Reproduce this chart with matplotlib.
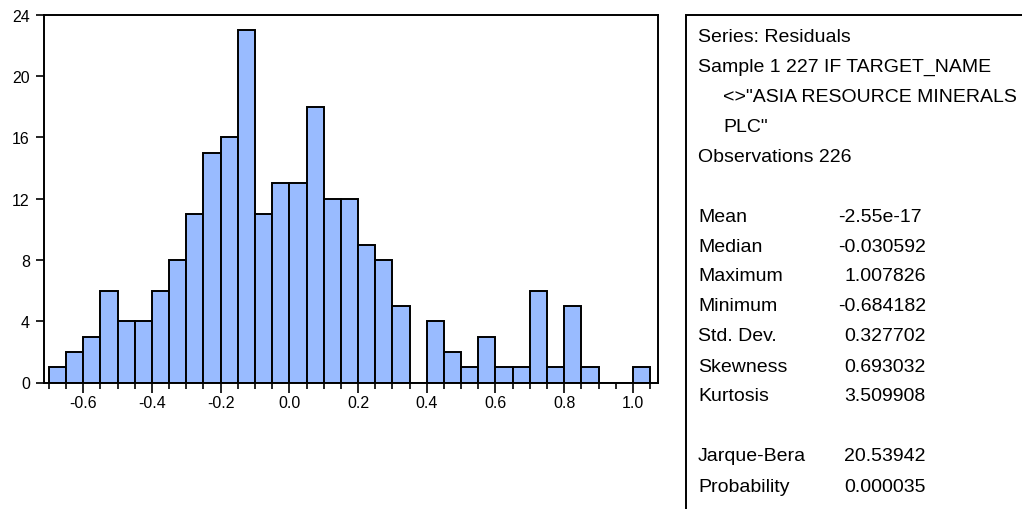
import matplotlib
matplotlib.use("Agg")
import matplotlib.pyplot as plt
from matplotlib.patches import Rectangle
from matplotlib.ticker import FormatStrFormatter

plt.rcParams['font.family'] = ['Liberation Sans', 'DejaVu Sans']

# histogram of residuals (bin width 0.05)
bin_starts = [-0.70, -0.65, -0.60, -0.55, -0.50, -0.45, -0.40, -0.35, -0.30, -0.25,
              -0.20, -0.15, -0.10, -0.05, 0.00, 0.05, 0.10, 0.15, 0.20, 0.25,
              0.30, 0.35, 0.40, 0.45, 0.50, 0.55, 0.60, 0.65, 0.70, 0.75,
              0.80, 0.85, 0.90, 0.95, 1.00]
counts = [1, 2, 3, 6, 4, 4, 6, 8, 11, 15,
          16, 23, 11, 13, 13, 18, 12, 12, 9, 8,
          5, 0, 4, 2, 1, 3, 1, 1, 6, 1,
          5, 1, 0, 0, 1]
bin_width = 0.05

x_ticks = [-0.6, -0.4, -0.2, 0.0, 0.2, 0.4, 0.6, 0.8, 1.0]
y_ticks = [0, 4, 8, 12, 16, 20, 24]

header_lines = ['Series: Residuals',
                'Sample 1 227 IF TARGET_NAME',
                '<>"ASIA RESOURCE MINERALS',
                'PLC"',
                'Observations 226']
header_indent = [0, 0, 1, 1, 0]
stat_names = ['Mean', 'Median', 'Maximum', 'Minimum', 'Std. Dev.', 'Skewness', 'Kurtosis']
stat_values = ['-2.55e-17', '-0.030592', '1.007826', '-0.684182', '0.327702', '0.693032', '3.509908']
test_names = ['Jarque-Bera', 'Probability']
test_values = ['20.53942', '0.000035']

W, H = 1022, 510
fig = plt.figure(figsize=(W / 100, H / 100), dpi=100)
ax = fig.add_axes([43.7 / W, 1 - 383.5 / H, (658 - 43.7) / W, (383.5 - 15.5) / H])

ax.bar(bin_starts, counts, width=bin_width, align='edge',
       color='#99BBFF', edgecolor='black', linewidth=1.4)

ax.set_xlim(-0.715, 1.073)
ax.set_ylim(0, 24)
ax.set_xticks(x_ticks)
ax.set_xticks(bin_starts + [1.05], minor=True)
ax.set_yticks(y_ticks)
ax.xaxis.set_major_formatter(FormatStrFormatter('%.1f'))
ax.tick_params(axis='both', direction='out', width=1.2, labelsize=11.5)
ax.tick_params(axis='y', length=6, pad=4)
ax.tick_params(axis='x', which='major', length=7, pad=2)
ax.tick_params(axis='x', which='minor', length=4, width=1.2)
for s in ax.spines.values():
    s.set_linewidth(1.4)

def px(x, y):
    return x / W, 1 - y / H

fs = 14
for i, line in enumerate(header_lines):
    fig.text(*px(698 + 25 * header_indent[i], 37 + 30 * i), line, fontsize=fs, va='center', ha='left')

def value_x(v):
    # EViews leaves room for the sign
    return 838 if v.startswith('-') else 844

for i, (n, v) in enumerate(zip(stat_names, stat_values)):
    y = 217 + 30 * i
    fig.text(*px(698, y), n, fontsize=fs, va='center', ha='left')
    fig.text(*px(value_x(v), y), v, fontsize=fs, va='center', ha='left')

for i, (n, v) in enumerate(zip(test_names, test_values)):
    y = 457 + 30 * i
    fig.text(*px(698, y), n, fontsize=fs, va='center', ha='left')
    fig.text(*px(value_x(v), y), v, fontsize=fs, va='center', ha='left')

fig.patches.append(Rectangle(px(686, 530), 400 / W, 514 / H, transform=fig.transFigure,
                             fill=False, edgecolor='black', linewidth=1.4))

fig.savefig('out.png', dpi=100)
